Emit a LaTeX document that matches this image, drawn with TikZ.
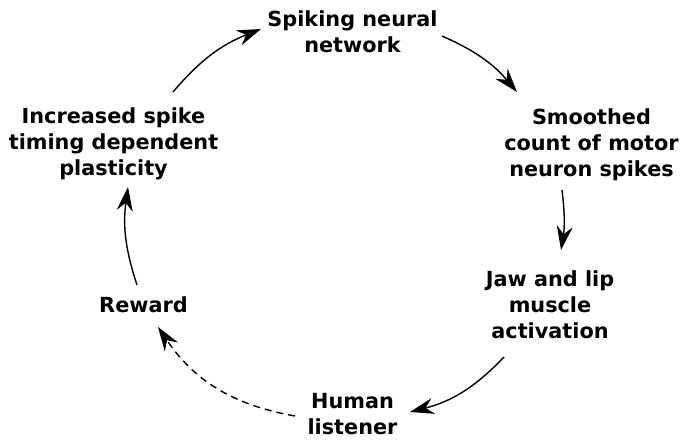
\documentclass[tikz,border=0pt]{standalone}
\usepackage{fontspec}
\setmainfont{DejaVu Sans}
\usepackage{tikz}
\usetikzlibrary{arrows.meta, positioning}

\begin{document}
\begin{tikzpicture}[x=1pt, y=-1pt,
    lbl/.style={font=\bfseries\fontsize{20.8}{26}\selectfont, align=center, inner sep=0pt},
    arr/.style={-{Stealth[length=24pt, width=16pt, inset=8pt]}, line width=1.4pt}]
    \useasboundingbox (0,0) rectangle (682,439);

    \node (spk) [lbl] at (352.5,31.6) {Spiking neural\\network};
    \node (smo) [lbl] at (591.5,144.6) {Smoothed\\count of motor\\neuron spikes};
    \node (jaw) [lbl] at (550,304.6) {Jaw and lip\\muscle\\activation};
    \node (hum) [lbl] at (352.5,414) {Human\\listener};
    \node (rew) [lbl] at (143.5,305) {Reward};
    \node (pla) [lbl] at (113.5,143.6) {Increased spike\\timing dependent\\plasticity};

    \draw[arr] ([shift={(59.5,-51.6)}]pla.center) to[bend left=14] ([shift={(-91.5,-2.6)}]spk.center);
    \draw[arr] ([shift={(89.5,4.4)}]spk.center) to[bend left=13] ([shift={(-74.5,-52.6)}]smo.center);
    \draw[arr] ([shift={(-29.5,45.4)}]smo.center) to[bend left=8] ([shift={(11,-54.6)}]jaw.center);
    \draw[arr] ([shift={(-46,52.4)}]jaw.center) to[bend left=16] ([shift={(57.5,-2)}]hum.center);
    \draw[arr, dash pattern=on 7pt off 5pt] ([shift={(-57.5,2)}]hum.center) to[bend left=23] ([shift={(14.5,22)}]rew.center);
    \draw[arr] ([shift={(-6.5,-20)}]rew.center) to[bend left=13] ([shift={(14.5,43.4)}]pla.center);
\end{tikzpicture}
\end{document}
